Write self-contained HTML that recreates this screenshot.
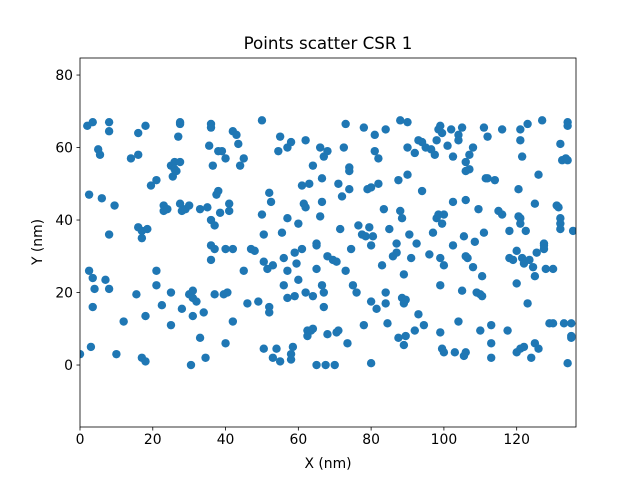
<!DOCTYPE html>
<html><head><meta charset="utf-8"><style>
body{margin:0;background:#fff;}
svg{display:block;font-family:"DejaVu Sans","Liberation Sans",sans-serif;}
</style></head><body>
<svg id="chart" width="640" height="480" viewBox="0 0 640 480">
<rect width="640" height="480" fill="#fff"/>
<text x="328" y="49" text-anchor="middle" font-size="16.7">Points scatter CSR 1</text>
<g id="points"></g>
<g id="axes"></g>
<text x="328" y="468" text-anchor="middle" font-size="13.9">X (nm)</text>
<text x="42" y="242" text-anchor="middle" font-size="13.9" transform="rotate(-90 42 242)">Y (nm)</text>
</svg>
<script>
const xTicks=[0,20,40,60,80,100,120];
const yTicks=[0,20,40,60,80];
const xs=[0,2,3.5,2.5,2.5,3.5,4,3.5,3,5,5.5,6,7,8,8,8,8,9.5,10,12,14,16,16,15.5,16,17,17,17,18,18,18,18.5,19.5,21,21,21,22.5,23,23,24,25,25,25,25.5,26,26,26.5,27,27.5,27.5,27.5,27.5,28,28,29,30,30,30.5,31,31,31,32,33,33,34,34.5,35,35.5,36,36,36,36,36,36.5,37,37,37,37.5,38,38,38.5,39,39.5,40,40,40,40.5,41,41,42,42,42,43,43.5,44,45,45,46,47,48,49,50,50,50.5,50.5,50.5,51.5,52,52,52,52.5,53,53,54,54.5,55,55,55.5,56,56,57,57,57,57,58,58,58,58.5,59,59,59.5,60,60,61,61,61.5,62,62,62,62.5,62.5,63,63.5,64,64,64,65,65,65,65,66,66,66.5,66.5,66.5,67,67,67,67.5,68,68,68,69.5,70,70.5,70.5,71,71,71.5,72,72.5,73,73,73.5,74,74,74,74.5,75,76,76.5,77.5,78,78,78.5,79,79.5,80,80,80,80,80.5,81,81,81.5,82,82,83,83.5,84,84,84,84.5,85,86,87,87,87.5,87.5,88,88,88.5,88.5,89,89,89,89.5,89.5,90,90,90,90.5,91,92,92,92.5,93,93,94,94,94.5,95,96,96.5,97,97.5,98,98,98.5,98.5,99,99,99,99,99.5,99.5,99.5,100,100,100,101,102,102.5,102.5,102.5,103,104,104,104,105,105,105.5,105.5,106,106,106,106,106.5,106,107,107,108,108,108.5,109,109.5,110,110,110.5,110.5,111,111,111.5,112,112,113,113,113,114,115,116,116,117.5,118,118,119,120,120,120,120.5,120.5,121,121,121,121,121,121.5,121.5,122,122,122.5,123,123,123.5,124,124.5,125,125,125,125.5,126,126,127,127.5,127.5,127.5,128,129,130,130,131,131.5,132,132,132,132,132.5,133,133.5,134,134,134,134,135,135,135,135.5];
const ys=[3,66,67,47,26,24,21,16,5,59.5,58,46,23.5,21,36,64.5,67,44,3,12,57,64,58,19.5,38,37,35,2,1,66,13.5,37.5,49.5,51,26,22,16.5,44,42.5,43,11,20,55,52,54,56,53.5,63,66.5,67,56,44.5,42.5,15.5,43,44,19.5,0,20.5,13.5,18.5,17.5,7.5,43,14.5,2,43.5,60.5,66.5,65.5,40,33,29,55,32,38.5,19.5,47,59,48,42,59,19.5,57,32,6,20,44.5,42.5,64.5,32,12,63.5,61,55,57,26,17,32,31.5,17.5,67.5,41.5,36,28.5,4.5,26.5,16,14.5,47.5,45,27.5,2,4.5,59,63,1,36.5,22,29.5,26,18.5,40.5,60,1.5,3,61.5,5,19,31,28,23.5,39,49.5,32,44.5,43.5,62,20,9.5,8,50,9.5,55,19,10,33.5,33,0,26.5,60,41,51.5,45,22,20,57.5,16,0,59,30,8.5,29,0,9,28.5,50,9.5,37.5,46.5,60,66.5,26,6,48.5,54.5,53.5,32,22,20,38.5,36,11,65.5,35.5,48.5,38,33,0.5,49,17.5,35.5,63.5,59,15.5,57,50,27.5,43,65,20,17,11.5,37.5,30,31,33.5,51,7.5,67.5,42.5,40.5,18.5,17,25,5.5,18,8,67,60,52.5,36,29.5,58.5,9.5,33.5,62,14,48,61.5,11,60,30.5,59.5,36.5,58,62,40.5,65,41.5,66,22,9,29.5,39,4.5,64,3.5,41.5,27.5,60.5,65,57.5,45,33,3.5,12,63.5,62,65.5,20.5,2.5,35.5,3.5,56,53.5,45.5,29.5,30,58,54,27,60,34,20,43,9.5,19.5,24.5,19,36.5,65.5,51.5,51.5,63,11,6,2,51,42.5,65,41.5,9.5,29.5,37,29,3.5,22.5,31.5,48.5,41,65,4.5,40.5,39,62,57.5,29.5,5,28,37,66.5,17,29,2,27,44.5,24.5,6,31,52.5,4.5,67.5,33.5,33,32,26.5,11.5,11.5,26.5,44,43.5,40.5,39,37.5,61,56.5,11.5,57,67,66,0.5,56.5,11.5,8,7.5,37];
const L=80,R=576,T=58,B=427,xmin=0,xmax=136.3,ymin=-17.1,ymax=84.7;
const sx=v=>L+(v-xmin)/(xmax-xmin)*(R-L);
const sy=v=>B-(v-ymin)/(ymax-ymin)*(B-T);
const NS="http://www.w3.org/2000/svg";
const pg=document.getElementById('points');
const clip=document.createElementNS(NS,'clipPath');clip.id='c';
const cr=document.createElementNS(NS,'rect');cr.setAttribute('x',L);cr.setAttribute('y',T);cr.setAttribute('width',R-L);cr.setAttribute('height',B-T);
clip.appendChild(cr);document.getElementById('chart').appendChild(clip);
pg.setAttribute('clip-path','url(#c)');
for(let i=0;i<xs.length;i++){
 const c=document.createElementNS(NS,'circle');
 c.setAttribute('cx',sx(xs[i]));c.setAttribute('cy',sy(ys[i]));c.setAttribute('r',4.2);c.setAttribute('fill','#1f77b4');
 
 
 pg.appendChild(c);
}
const ax=document.getElementById('axes');
function el(t,a){const e=document.createElementNS(NS,t);for(const k in a)e.setAttribute(k,a[k]);ax.appendChild(e);return e;}
const fr=el('rect',{x:L,y:T,width:R-L,height:B-T,fill:'none',stroke:'#000','stroke-width':0.8});


xTicks.forEach(t=>{const x=sx(t);
 const l=el('line',{x1:x,x2:x,y1:B,y2:B+3.5,stroke:'#000','stroke-width':0.8});
 
 
 const tx=el('text',{x:x,y:B+17,'text-anchor':'middle','font-size':13.9});tx.textContent=t;
 
 
});
yTicks.forEach(t=>{const y=sy(t);
 const l=el('line',{x1:L-3.5,x2:L,y1:y,y2:y,stroke:'#000','stroke-width':0.8});
 
 
 const tx=el('text',{x:L-7,y:y+5,'text-anchor':'end','font-size':13.9});tx.textContent=t;
 
 
});
</script>
</body></html>
